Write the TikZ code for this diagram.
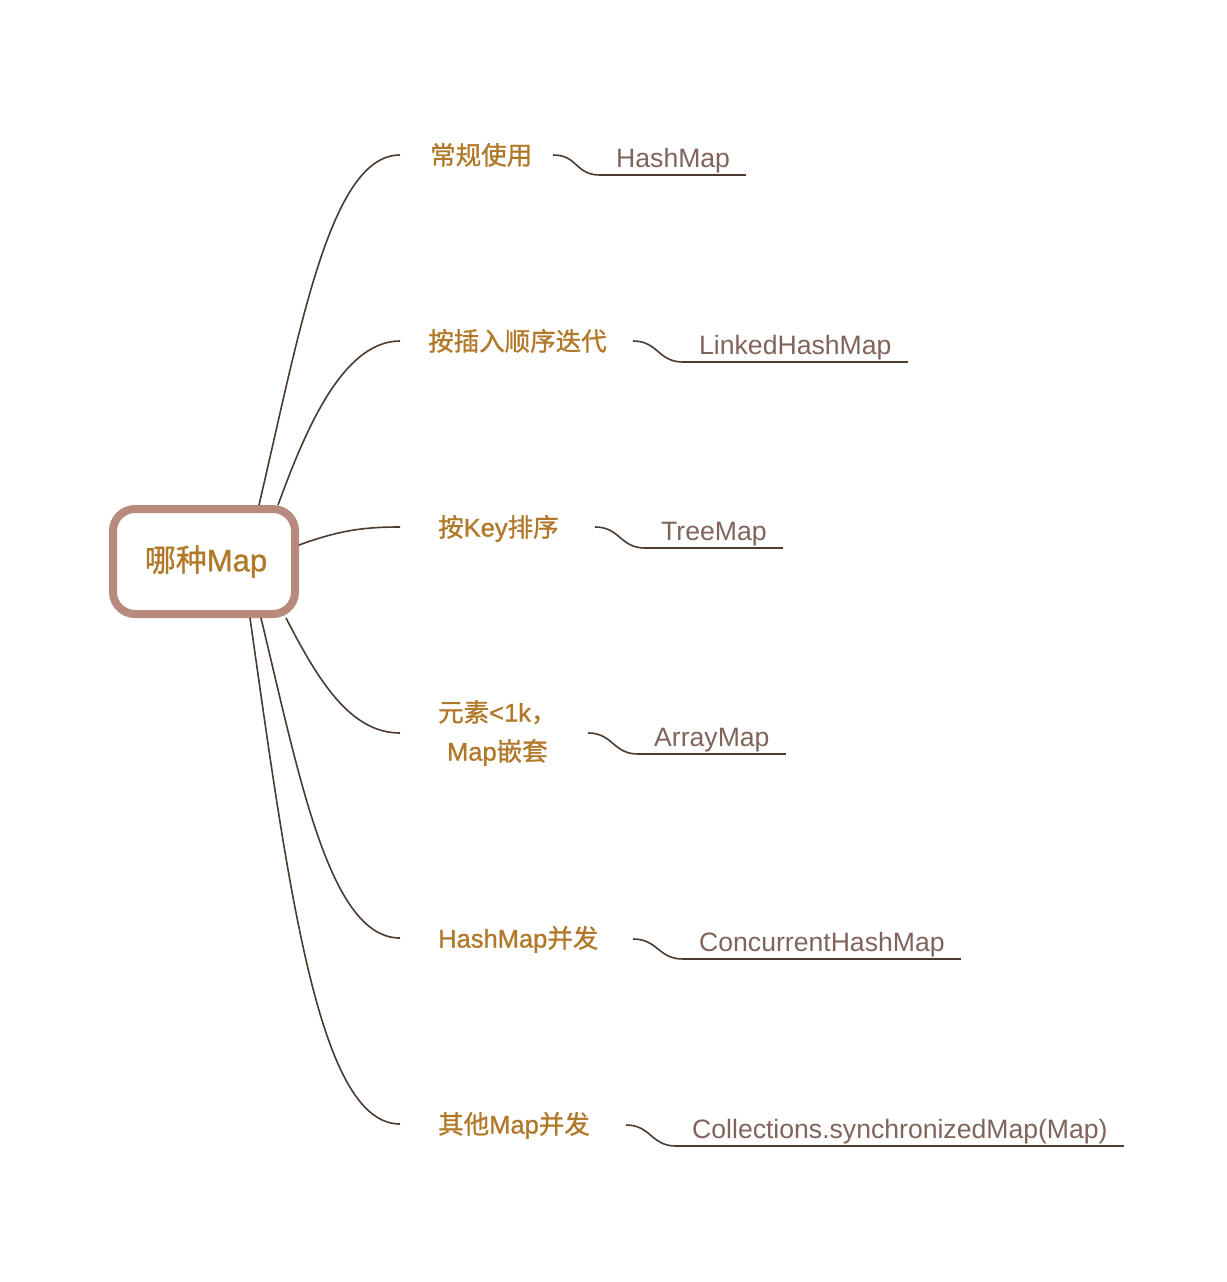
\documentclass[tikz,border=0pt]{standalone}
\usepackage{fontspec}
\setmainfont{Liberation Sans}
\newfontfamily\cjk{Noto Sans CJK SC}[FakeBold=1.0]
\newfontfamily\medlat{Liberation Sans}[FakeBold=1.0]
\definecolor{rootborder}{RGB}{183,138,125}
\definecolor{roottext}{RGB}{176,120,40}
\definecolor{branchtext}{RGB}{176,120,40}
\definecolor{leaftext}{RGB}{128,100,92}
\definecolor{linecol}{RGB}{75,58,48}
\tikzset{
  rootbox/.style={draw=rootborder, line width=8pt, rounded corners=22pt, fill=white,
    minimum width=182pt, minimum height=105pt, text=roottext,
    font=\medlat\fontsize{31}{36}\selectfont},
  branch/.style={anchor=west, inner ysep=0pt, text height=20.4pt, text depth=1.3pt,
    text=branchtext, font=\medlat\fontsize{25.5}{30}\selectfont},
  leaf/.style={anchor=south west, inner xsep=16pt, inner ysep=0pt, text height=19pt,
    text depth=7.5pt, text=leaftext, font=\fontsize{26.6}{30}\selectfont},
  conn/.style={draw=linecol, line width=1.6pt},
  uline/.style={draw=linecol, line width=1.8pt}
}
\begin{document}
\begin{tikzpicture}[x=1pt,y=-1pt]
\useasboundingbox (0,0) rectangle (1226,1282);
\node[rootbox] (root) at (204,561.5) {\hspace*{4pt}{\cjk 哪种}Map};

% root attach points
\coordinate (r1) at (259,505);
\coordinate (r2) at (278,505);
\coordinate (r3) at (299,545);
\coordinate (r4) at (286,618);
\coordinate (r5) at (261,618);
\coordinate (r6) at (250,618);

% branch labels
\node[branch, inner xsep=30pt] (b1) at (400,155) {\cjk 常规使用};
\node[branch, inner xsep=28pt] (b2) at (400,341) {\cjk 按插入顺序迭代};
\node[branch, inner xsep=38pt] (b3) at (400,527) {{\cjk 按}Key{\cjk 排序}};
\node[branch, inner xsep=38pt, text height=, text depth=, align=center,
      font=\medlat\fontsize{25.5}{39}\selectfont] (b4) at (400,733) {{\cjk 元素}<1k{\cjk ，}\\Map{\cjk 嵌套}};
\node[branch, inner xsep=38pt] (b5) at (400,938) {HashMap{\cjk 并发}};
\node[branch, inner xsep=38pt] (b6) at (400,1124) {{\cjk 其他}Map{\cjk 并发}};

% leaf start points
\coordinate (s1) at (553,155);
\coordinate (s2) at (633,341);
\coordinate (s3) at (595,527);
\coordinate (s4) at (588,733);
\coordinate (s5) at (633,939);
\coordinate (s6) at (626,1125);

% leaf labels
\node[leaf] (l1) at (600,175) {HashMap};
\node[leaf] (l2) at (683,362) {LinkedHashMap};
\node[leaf] (l3) at (645,548) {TreeMap};
\node[leaf] (l4) at (638,754) {ArrayMap};
\node[leaf] (l5) at (683,959) {ConcurrentHashMap};
\node[leaf] (l6) at (676,1146) {Collections.synchronizedMap(Map)};

% root -> branches
\draw[conn] (r1) .. controls (300,330) and (330,155) .. (b1.west);
\draw[conn] (r2) .. controls (302,440) and (340,341) .. (b2.west);
\draw[conn] (r3) .. controls (340,530) and (365,527) .. (b3.west);
\draw[conn] (r4) .. controls (318,680) and (350,733) .. (b4.west);
\draw[conn] (r5) .. controls (300,780) and (330,938) .. (b5.west);
\draw[conn] (r6) .. controls (290,900) and (320,1124) .. (b6.west);

% branches -> leaves
\foreach \i in {1,...,6}{
  \draw[conn] (s\i) .. controls ([xshift=25pt]s\i) and ([xshift=-25pt]l\i.south west) .. (l\i.south west);
  \draw[uline] (l\i.south west) -- (l\i.south east);
}
\end{tikzpicture}
\end{document}
